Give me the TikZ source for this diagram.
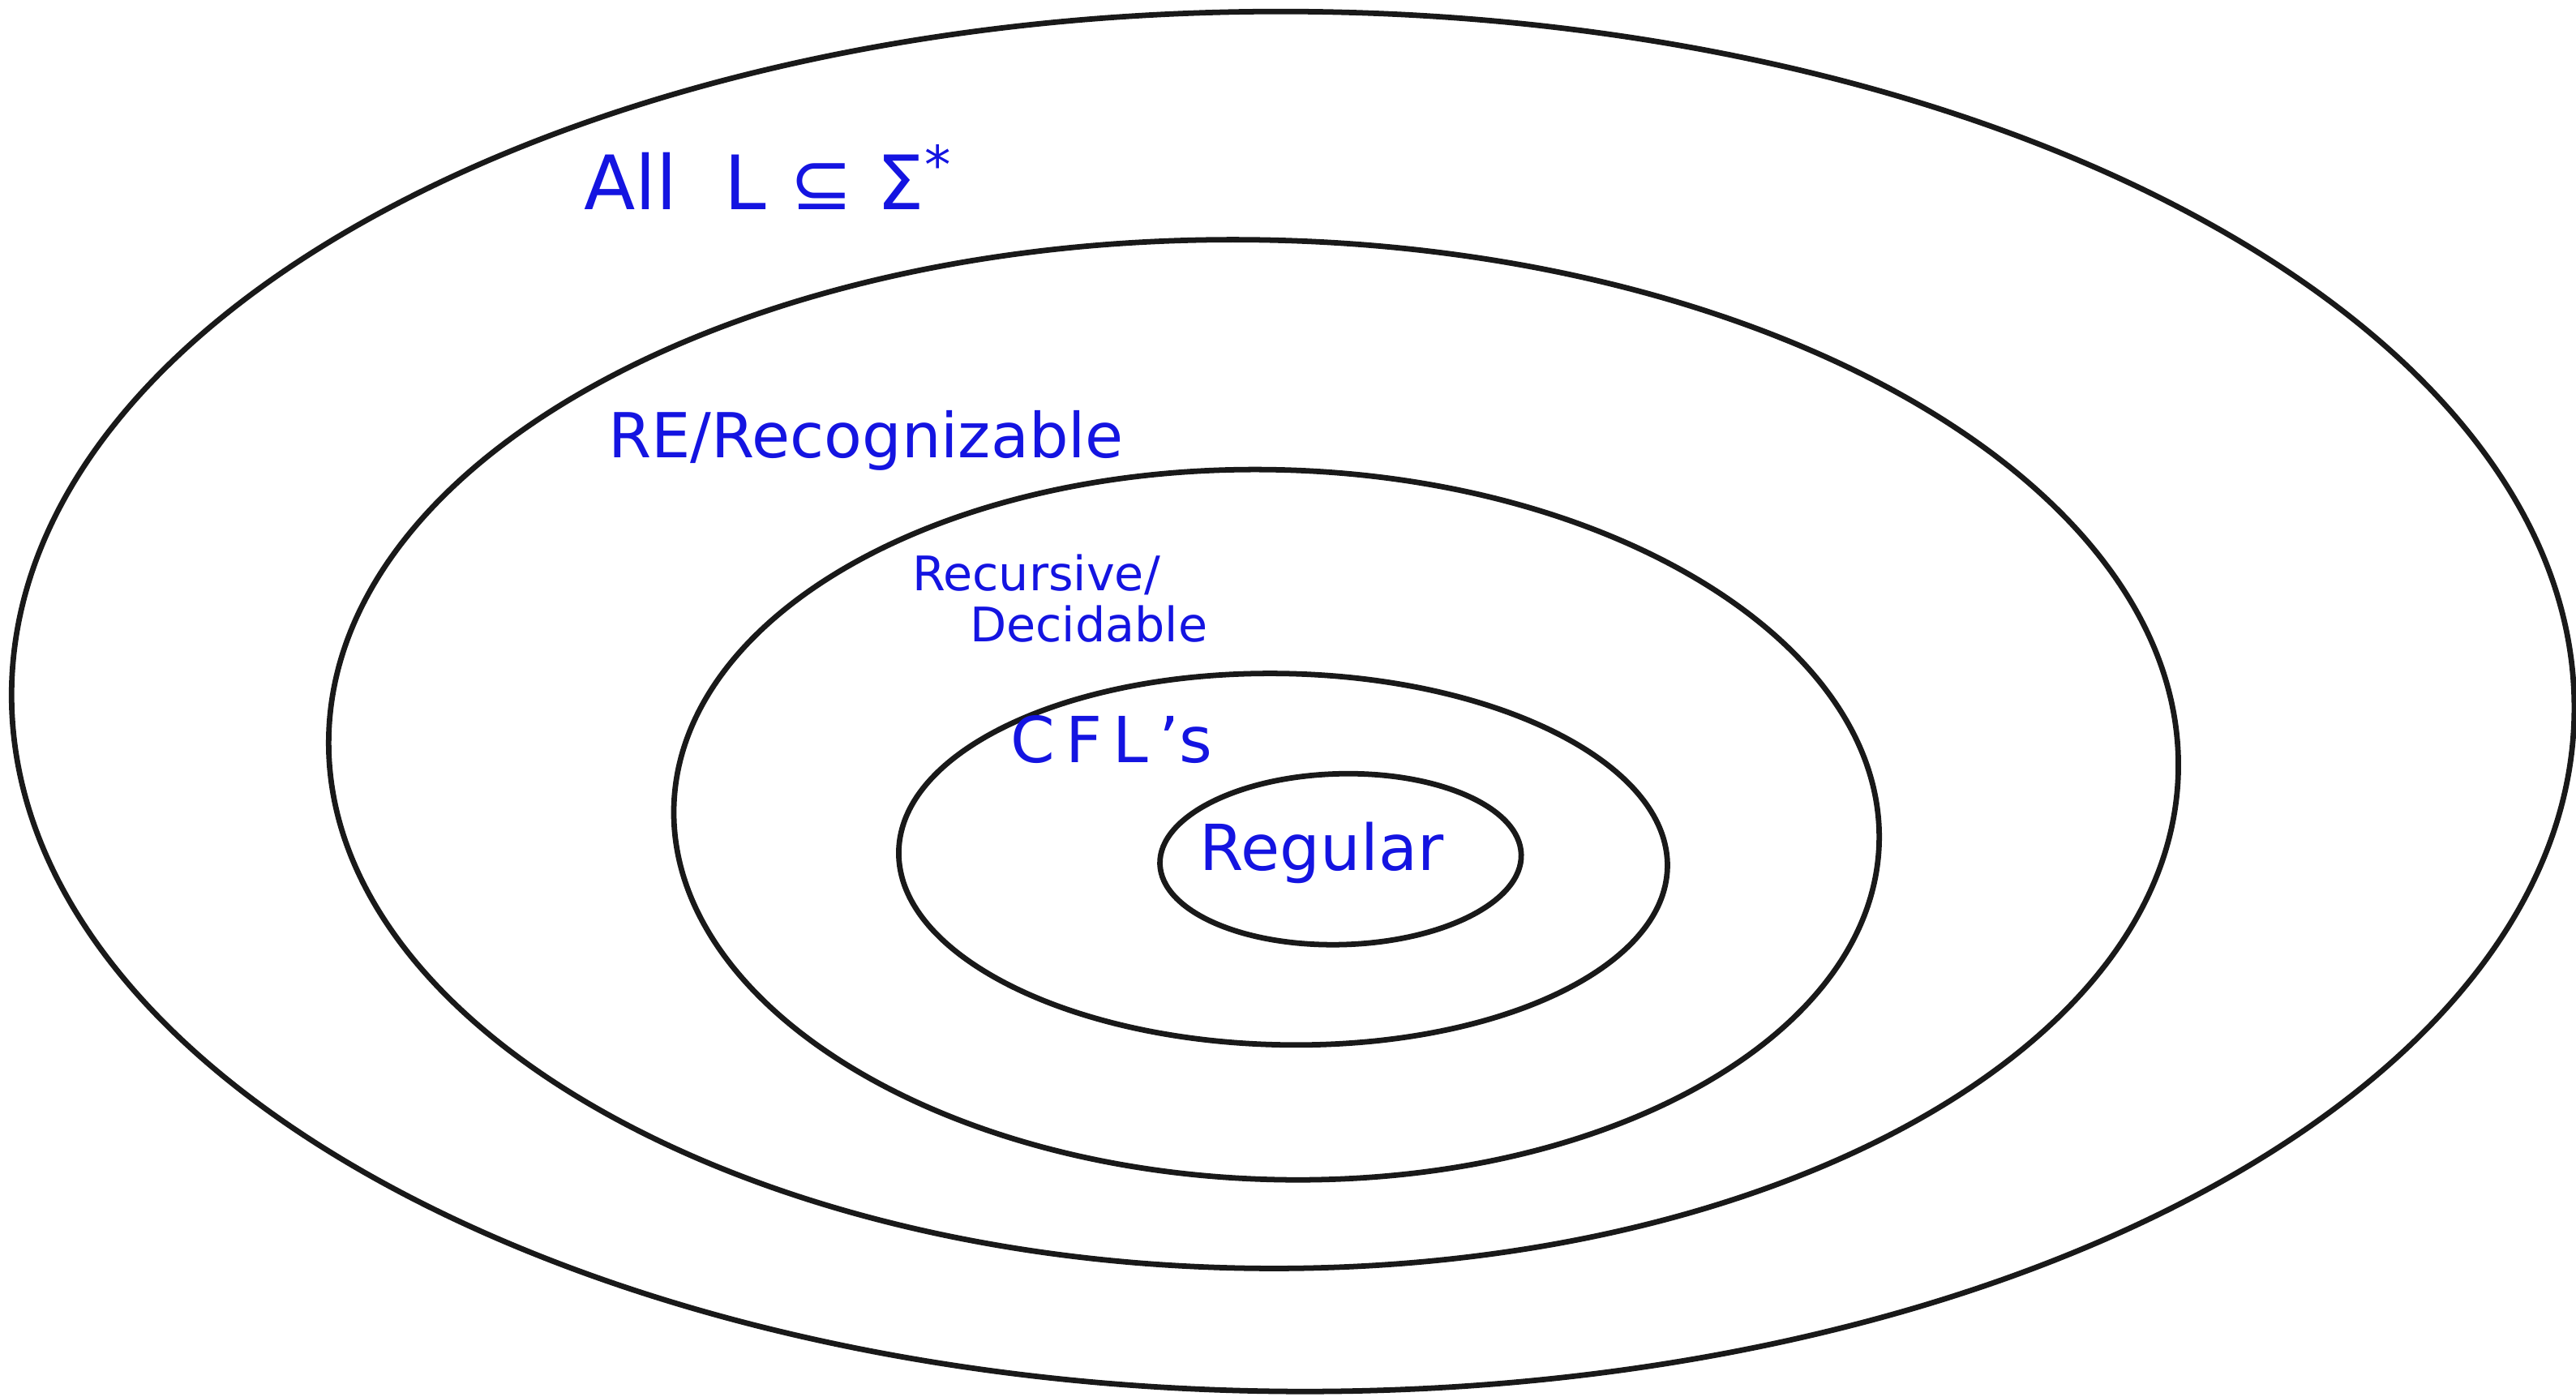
\documentclass[tikz,border=0pt]{standalone}
\usepackage{fontspec}
\setmainfont{DejaVu Sans}
\definecolor{ink}{RGB}{20,20,225}
\definecolor{edge}{RGB}{25,25,25}
\begin{document}
\begin{tikzpicture}[x=0.02cm,y=-0.02cm,
  ring/.style={draw=edge,line width=1.9pt},
  lbl/.style={text=ink,inner sep=0pt,anchor=west,font=\fontsize{20}{24}\selectfont}]
\useasboundingbox (0,0) rectangle (1568,850);
\draw[ring] (787,427) ellipse [x radius=780,y radius=420,rotate=-0.4];
\draw[ring] (763,459) ellipse [x radius=563,y radius=313,rotate=-1];
\draw[ring] (777,502) ellipse [x radius=367,y radius=216,rotate=-1.8];
\draw[ring] (781,523) ellipse [x radius=234,y radius=113,rotate=-1.2];
\draw[ring] (816,523) ellipse [x radius=110,y radius=52,rotate=1.5];
\node[lbl,font=\fontsize{26}{30}\selectfont] (all) at (355,108) {All \ L ⊆ Σ\textsuperscript{*}};
\node[lbl,font=\fontsize{21.5}{26}\selectfont] (re) at (370,268) {RE/Recognizable};
\node[lbl,font=\fontsize{16.5}{20}\selectfont] (rec) at (555,350) {Recursive/};
\node[lbl,font=\fontsize{16.5}{20}\selectfont] (dec) at (590,380) {Decidable};
\node[lbl,font=\fontsize{22}{26}\selectfont] (cfl) at (615,450) {C\,F\,L\,’s};
\node[lbl,font=\fontsize{22}{26}\selectfont] (reg) at (730,519) {Regular};
\end{tikzpicture}
\end{document}
